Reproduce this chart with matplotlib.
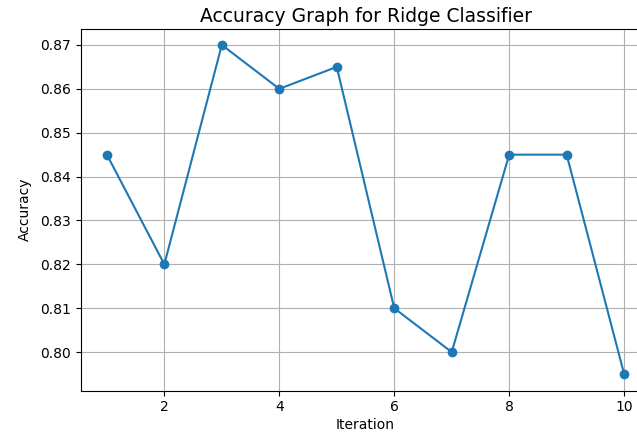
import matplotlib
matplotlib.use("Agg")
import matplotlib.pyplot as plt

iterations = [1, 2, 3, 4, 5, 6, 7, 8, 9, 10]
accuracy = [0.845, 0.82, 0.87, 0.86, 0.865, 0.81, 0.80, 0.845, 0.845, 0.795]

fig = plt.figure(figsize=(6.37, 4.33), dpi=100)
# the original screenshot is cropped on the right, so the axes run past the edge
ax = fig.add_axes([81 / 637, 42.5 / 433, 569 / 637, 362 / 433])
ax.plot(iterations, accuracy, marker="o", color="#1f77b4")
ax.set_title("Accuracy Graph for Ridge Classifier", fontsize=13.5, pad=5)
ax.set_xlabel("Iteration", labelpad=3)
ax.set_ylabel("Accuracy", labelpad=6)
ax.grid(True)

fig.savefig("out.png", dpi=100)
